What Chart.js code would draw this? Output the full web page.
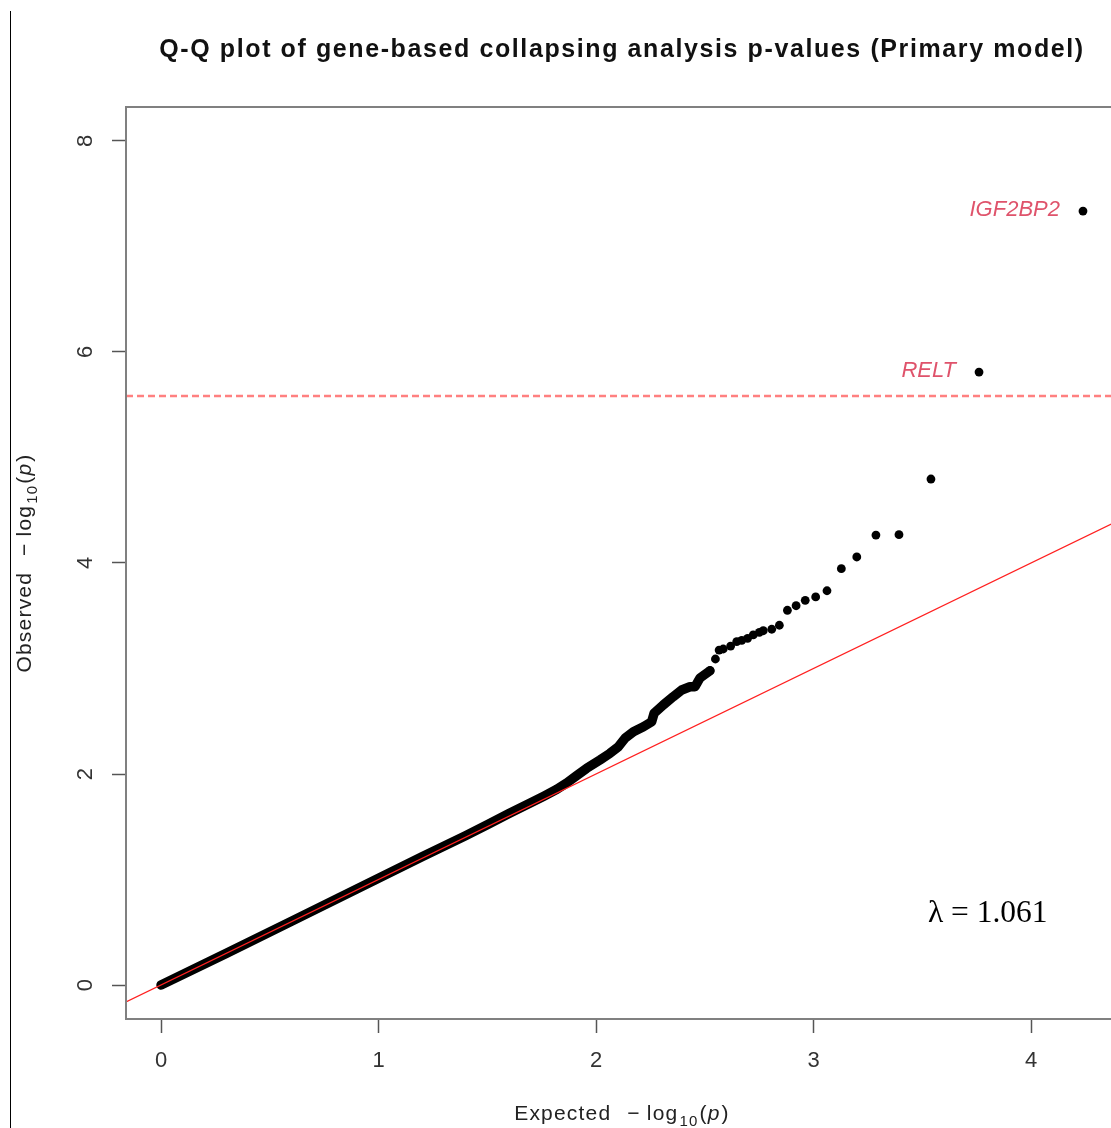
<!DOCTYPE html>
<html>
<head>
<meta charset="utf-8">
<script src="https://cdn.jsdelivr.net/npm/chart.js@4.4.1/dist/chart.umd.min.js"></script>
<style>
html, body { margin: 0; padding: 0; background: #fff; overflow: hidden; }
#wrap { position: relative; width: 1140px; height: 1128px; overflow: hidden; }
#qq { position: absolute; left: 0; top: 0; }
#edge { position: absolute; left: 10px; top: 11px; width: 1px; height: 1117px; background: #000; }
</style>
</head>
<body>
<div id="wrap">
  <canvas id="qq" width="1118" height="1128"></canvas>
  <div id="edge"></div>
</div>
<script>
// axis ticks
const xTicks = [0, 1, 2, 3, 4];
const yTicks = [0, 2, 4, 6, 8];

// dense part of the QQ curve, drawn as a thick band
const bandExpected = [0.00, 0.30, 0.60, 0.90, 1.20, 1.40, 1.50, 1.60, 1.70, 1.76, 1.82, 1.865, 1.911, 1.957, 2.018, 2.064, 2.103, 2.133, 2.172, 2.218, 2.256, 2.267, 2.309, 2.355, 2.394, 2.432, 2.455, 2.478, 2.524];
const bandObserved = [0.00, 0.30, 0.605, 0.91, 1.215, 1.415, 1.52, 1.625, 1.728, 1.79, 1.855, 1.915, 1.985, 2.054, 2.133, 2.196, 2.259, 2.338, 2.401, 2.448, 2.496, 2.575, 2.654, 2.733, 2.796, 2.827, 2.827, 2.910, 2.979];

// sparse upper tail, single points
const tailExpected = [4.239, 3.761, 3.540, 3.393, 3.287, 3.199, 3.128, 3.062, 3.010, 2.962, 2.920, 2.880, 2.843, 2.808, 2.769, 2.751, 2.723, 2.697, 2.670, 2.647, 2.619, 2.585, 2.566, 2.549, 2.524];
const tailObserved = [7.336, 5.810, 4.796, 4.268, 4.265, 4.057, 3.946, 3.737, 3.678, 3.646, 3.595, 3.552, 3.410, 3.372, 3.358, 3.343, 3.318, 3.286, 3.267, 3.254, 3.213, 3.185, 3.175, 3.090, 2.979];

// named genes
const geneNames = ['IGF2BP2', 'RELT'];
const geneExpected = [4.239, 3.761];
const geneObserved = [7.336, 5.810];

const lambdaGC = 1.061;
const threshold = 5.583;

const xMin = -0.161, xMax = 4.40;
const yMin = -0.322, yMax = 8.322;

const sans = '"Liberation Sans", Arial, sans-serif';

function toPts(xs, ys) {
    return xs.map((x, i) => ({ x: x, y: ys[i] }));
}

// draws "<lead>  −log10(p)" in plotmath style, centred on cx
function drawLogLabel(ctx, lead, cx, baseline) {
    const parts = [
        { t: lead, f: '21px ' + sans, dy: 0, gap: 16 },
        { t: '\u2212', f: '21px ' + sans, dy: 0, gap: 6 },
        { t: 'log', f: '21px ' + sans, dy: 0, gap: 1 },
        { t: '10', f: '15px ' + sans, dy: 6, gap: 1 },
        { t: '(', f: '21px ' + sans, dy: 0, gap: 0 },
        { t: 'p', f: 'italic 21px ' + sans, dy: 0, gap: 1 },
        { t: ')', f: '21px ' + sans, dy: 0, gap: 0 }
    ];
    ctx.letterSpacing = '1.2px';
    let total = 0;
    parts.forEach(p => {
        ctx.font = p.f;
        p.w = ctx.measureText(p.t).width;
        total += p.w + p.gap;
    });
    let x = cx - total / 2;
    ctx.textAlign = 'left';
    ctx.textBaseline = 'alphabetic';
    parts.forEach(p => {
        ctx.font = p.f;
        ctx.fillText(p.t, x, baseline + p.dy);
        x += p.w + p.gap;
    });
    ctx.letterSpacing = '0px';
}

const decorPlugin = {
    id: 'decor',
    afterDraw(chart) {
        const ctx = chart.ctx;
        const area = chart.chartArea;
        const xs = chart.scales.x, ys = chart.scales.y;
        ctx.save();

        // plot box
        ctx.strokeStyle = '#808080';
        ctx.lineWidth = 2;
        ctx.strokeRect(area.left, area.top, area.right - area.left, area.bottom - area.top);

        // title
        const mid = (area.left + area.right) / 2;
        ctx.fillStyle = '#111';
        ctx.font = 'bold 25px ' + sans;
        ctx.letterSpacing = '1.6px';
        ctx.textAlign = 'center';
        ctx.textBaseline = 'middle';
        ctx.fillText('Q-Q plot of gene-based collapsing analysis p-values (Primary model)', mid, 50);
        ctx.letterSpacing = '0px';

        // axis titles
        ctx.fillStyle = '#222';
        drawLogLabel(ctx, 'Expected', mid, 1120);
        ctx.save();
        ctx.translate(31, (area.top + area.bottom) / 2);
        ctx.rotate(-Math.PI / 2);
        drawLogLabel(ctx, 'Observed', 0, 0);
        ctx.restore();

        // gene labels
        ctx.fillStyle = '#DF536B';
        ctx.font = 'italic 22px ' + sans;
        ctx.textAlign = 'right';
        ctx.textBaseline = 'middle';
        geneNames.forEach((g, i) => {
            const px = xs.getPixelForValue(geneExpected[i]);
            const py = ys.getPixelForValue(geneObserved[i]);
            ctx.fillText(g, px - 23, py - 1);
        });

        // genomic inflation factor
        ctx.fillStyle = '#000';
        ctx.font = '31.5px "Liberation Serif", "Times New Roman", serif';
        ctx.textAlign = 'left';
        ctx.textBaseline = 'middle';
        ctx.fillText('\u03bb = ' + lambdaGC.toFixed(3), xs.getPixelForValue(3.526), ys.getPixelForValue(0.682) + 1);

        ctx.restore();
    }
};

const canvas = document.getElementById('qq');
const ctx = canvas.getContext('2d');

new Chart(ctx, {
    type: 'scatter',
    data: {
        datasets: [
            {
                label: 'y = x',
                data: [{ x: xMin, y: xMin }, { x: xMax, y: xMax }],
                showLine: true,
                borderColor: '#ff2020',
                borderWidth: 1.3,
                pointRadius: 0,
                order: 0
            },
            {
                label: 'Bonferroni',
                data: [{ x: xMin, y: threshold }, { x: xMax, y: threshold }],
                showLine: true,
                borderColor: '#ff8080',
                borderWidth: 2.5,
                borderDash: [7, 4],
                pointRadius: 0,
                order: 1
            },
            {
                label: 'tail',
                data: toPts(tailExpected, tailObserved),
                pointRadius: 4.4,
                pointBackgroundColor: '#000',
                pointBorderWidth: 0,
                order: 2
            },
            {
                label: 'band',
                data: toPts(bandExpected, bandObserved),
                showLine: true,
                borderColor: '#000',
                borderWidth: 9.5,
                borderCapStyle: 'round',
                borderJoinStyle: 'round',
                pointRadius: 0,
                order: 3
            }
        ]
    },
    options: {
        responsive: false,
        animation: false,
        layout: { autoPadding: false, padding: { top: 107, right: 0, bottom: 0, left: 0 } },
        plugins: {
            legend: { display: false },
            tooltip: { enabled: false },
            title: { display: false }
        },
        scales: {
            x: {
                type: 'linear',
                min: xMin,
                max: xMax,
                afterBuildTicks: s => { s.ticks = xTicks.map(v => ({ value: v })); },
                afterFit: s => { s.height = 109; s.paddingLeft = 0; s.paddingRight = 0; },
                border: { display: false },
                grid: { drawOnChartArea: false, drawTicks: true, tickLength: 14, tickColor: '#555', tickWidth: 1.5 },
                ticks: { font: { family: sans, size: 22 }, color: '#333', padding: 15, maxRotation: 0, autoSkip: false }
            },
            y: {
                type: 'linear',
                min: yMin,
                max: yMax,
                afterBuildTicks: s => { s.ticks = yTicks.map(v => ({ value: v })); },
                afterFit: s => { s.width = 126; s.paddingTop = 0; s.paddingBottom = 0; },
                border: { display: false },
                grid: { drawOnChartArea: false, drawTicks: true, tickLength: 14, tickColor: '#555', tickWidth: 1.5 },
                ticks: { font: { family: sans, size: 22 }, color: '#333', padding: 20, minRotation: 90, maxRotation: 90, crossAlign: 'center', autoSkip: false }
            }
        }
    },
    plugins: [decorPlugin]
});
</script>
</body>
</html>
